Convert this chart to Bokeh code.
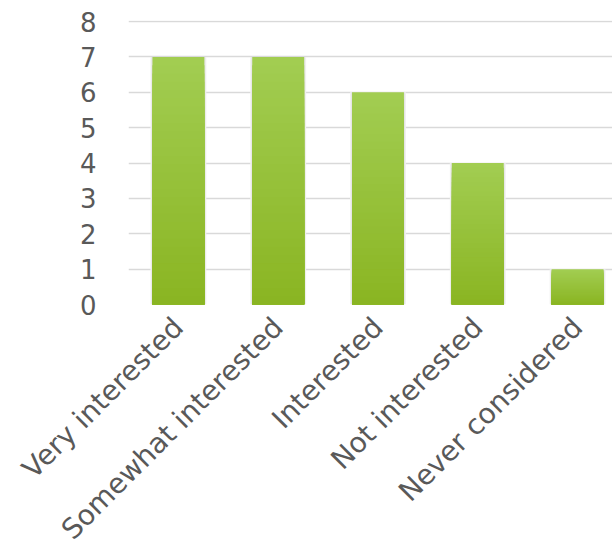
import math
from bokeh.plotting import figure
from bokeh.models import Range1d, FixedTicker, ColumnDataSource
from bokeh.embed import file_html
from bokeh.resources import INLINE

categories = ["Very interested", "Somewhat interested", "Interested", "Not interested", "Never considered"]
counts = [7, 7, 6, 4, 1]
y_ticks = [0, 1, 2, 3, 4, 5, 6, 7, 8]

idx = list(range(len(categories)))

p = figure(width=612, height=560, output_backend="svg", toolbar_location=None,
           x_range=Range1d(-0.5, 4.35), y_range=Range1d(0, 8.03),
           min_border_left=128, min_border_right=0, min_border_top=20, min_border_bottom=256)
p.outline_line_color = None
p.background_fill_color = "white"
p.border_fill_color = "white"

# grid
p.xgrid.grid_line_color = None
p.ygrid.grid_line_color = "#d9d9d9"
p.ygrid.grid_line_width = 1.6
p.yaxis.ticker = FixedTicker(ticks=y_ticks)
p.xaxis.ticker = FixedTicker(ticks=idx)
p.xaxis.major_label_overrides = {i: c for i, c in zip(idx, categories)}

for ax in (p.xaxis, p.yaxis):
    ax.axis_line_color = None
    ax.major_tick_line_color = None
    ax.minor_tick_line_color = None
    ax.major_label_text_font = "DejaVu Sans"
    ax.major_label_text_color = "#595959"
p.yaxis.major_label_text_font_size = "26px"
p.xaxis.major_label_text_font_size = "28px"
p.yaxis.major_label_standoff = 26
p.xaxis.major_label_standoff = 12
p.xaxis.major_label_orientation = math.pi / 4

# soft shadow
p.vbar(x=idx, top=counts, width=0.56, bottom=0, fill_color="#f0f0f0", line_color=None)
p.vbar(x=idx, top=counts, width=0.54, bottom=0, fill_color="#e4e4e4", line_color=None)

# gradient bars (light top -> darker bottom), drawn largest first so no seams
N = 30
top_rgb = (0xa2, 0xcd, 0x52)
bot_rgb = (0x8a, 0xb5, 0x22)
for k in range(N - 1, -1, -1):
    f1 = (k + 1) / N
    t = (k + 0.5) / N
    rgb = tuple(int(round(b + (a - b) * t)) for a, b in zip(top_rgb, bot_rgb))
    col = "#%02x%02x%02x" % rgb
    src = ColumnDataSource(dict(x=idx, t=[v * f1 for v in counts]))
    p.vbar(x="x", bottom=0, top="t", width=0.52, fill_color=col, line_color=None, source=src)

open("out.html", "w").write(file_html(p, INLINE))
